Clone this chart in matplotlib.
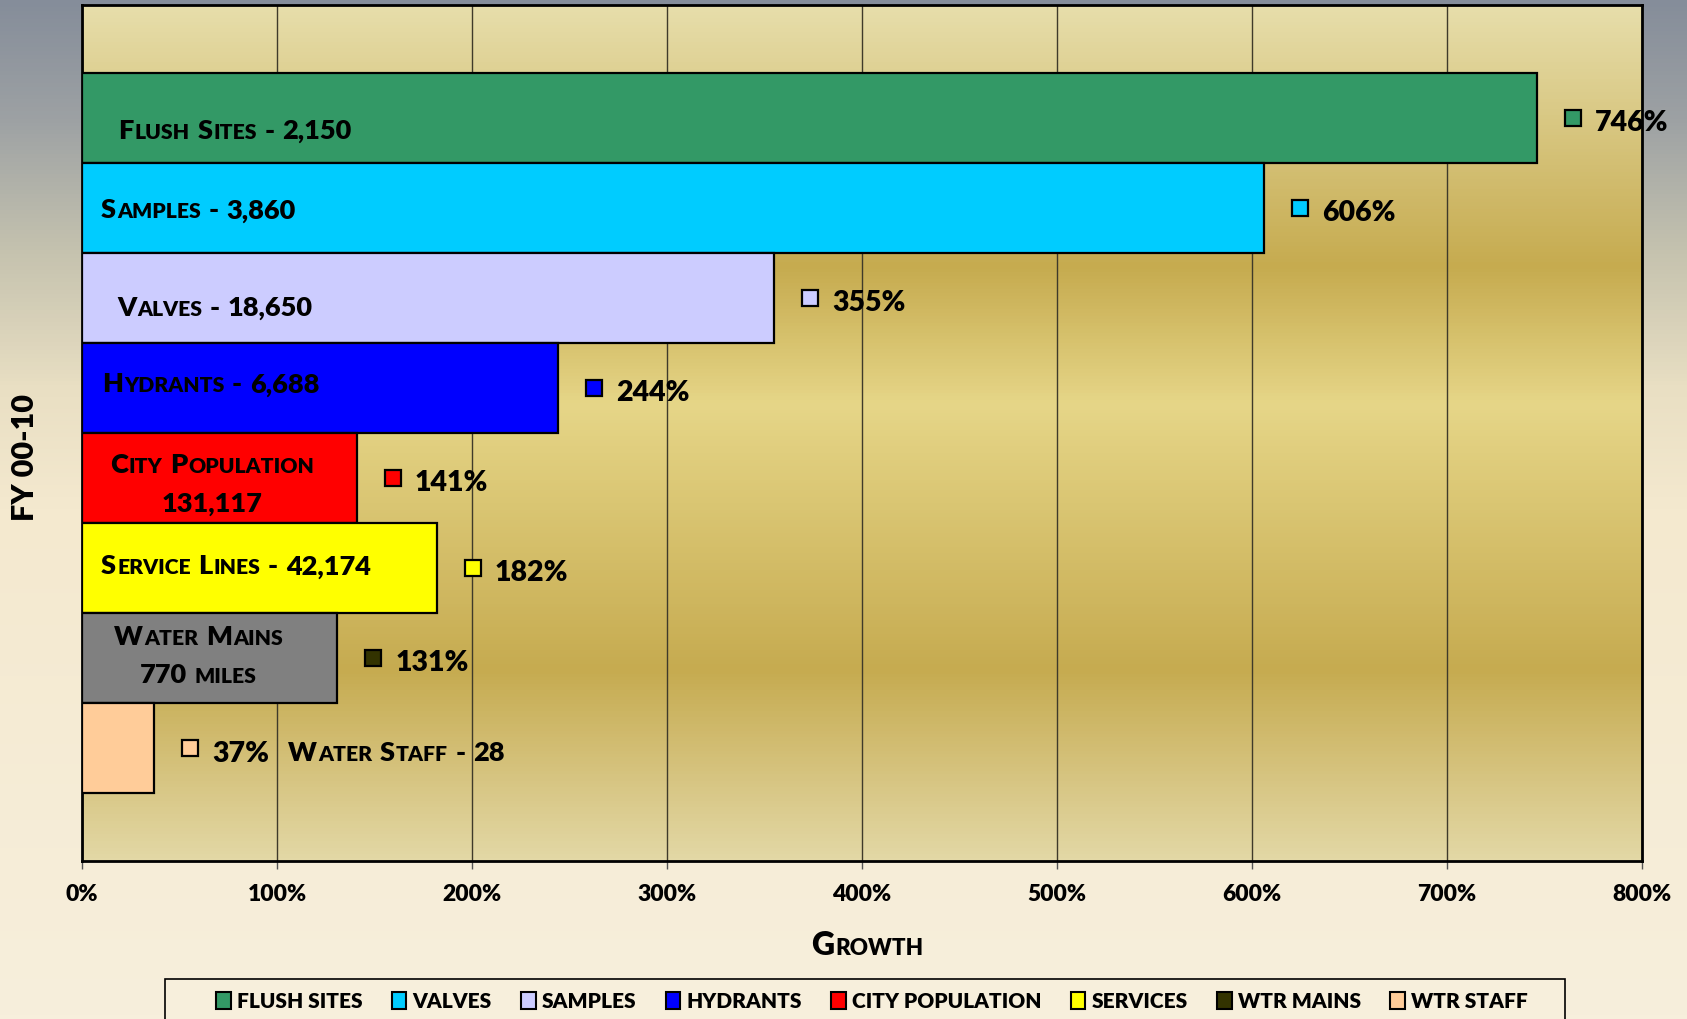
import numpy as np
import matplotlib
matplotlib.use('Agg')
import matplotlib.pyplot as plt
from matplotlib.colors import LinearSegmentedColormap
from matplotlib.patches import Patch, Rectangle
from matplotlib.transforms import offset_copy

WEIGHT = 'heavy'
plt.rcParams['font.family'] = ['Lato', 'DejaVu Sans']
plt.rcParams['font.weight'] = WEIGHT

# data
bar_names = ['Flush Sites - 2,150', 'Samples - 3,860', 'Valves - 18,650', 'Hydrants - 6,688',
             'City Population\n131,117', 'Service Lines - 42,174', 'Water Mains\n770 miles',
             'Water Staff - 28']
growth = [746, 606, 355, 244, 141, 182, 131, 37]
legend_labels = ['FLUSH SITES', 'VALVES', 'SAMPLES', 'HYDRANTS', 'CITY POPULATION',
                 'SERVICES', 'WTR MAINS', 'WTR STAFF']
key_colors = ['#339966', '#00CCFF', '#CCCCFF', '#0000FF', '#FF0000', '#FFFF00', '#333300', '#FFCC99']
bar_colors = ['#339966', '#00CCFF', '#CCCCFF', '#0000FF', '#FF0000', '#FFFF00', '#808080', '#FFCC99']
x_ticks = list(range(0, 801, 100))

# where the bar names sit: (x in %, vertical shift in bar units, alignment)
name_layout = [(18.5, 0.12, 'left'), (9.7, 0.0, 'left'), (18.0, 0.08, 'left'), (10.3, -0.07, 'left'),
               (67.0, -0.18, 'center'), (9.7, -0.05, 'left'), (60.0, -0.27, 'center'),
               (105.6, 0.02, 'left')]

W, H = 1687, 1020
fig = plt.figure(figsize=(W / 100, H / 100), dpi=100)
renderer = fig.canvas.get_renderer()
PX = fig.dpi / 72.0
CAP = 0.7165


def smallcaps(parent, x, y, s, size, transform, ratio=0.78, ha='left', zorder=6):
    tokens = []
    for ch in s:
        if ch == ' ':
            tokens.append((' ', None))
            continue
        small = ch.islower()
        if tokens and tokens[-1][1] == small:
            tokens[-1] = (tokens[-1][0] + ch.upper(), small)
        else:
            tokens.append((ch.upper(), small))
    arts, offs = [], []
    cursor = 0.0
    for t, small in tokens:
        if small is None:
            cursor += 0.23 * size * PX
            continue
        fs = size * ratio if small else size
        a = parent.text(x, y, t, fontsize=fs, fontweight=WEIGHT, ha='left', va='baseline',
                        transform=transform, zorder=zorder)
        w = a.get_window_extent(renderer).width
        arts.append(a)
        offs.append(cursor)
        cursor += w + 0.05 * fs * PX
    shift = -cursor / 2 if ha == 'center' else 0.0
    dy = -CAP * size * PX / 2
    for a, o in zip(arts, offs):
        a.set_transform(offset_copy(transform, fig=fig, x=o + shift, y=dy, units='dots'))
    return arts


# figure background gradient
bg = fig.add_axes([0, 0, 1, 1], zorder=-10)
bg_cmap = LinearSegmentedColormap.from_list('bg', [(0.0, '#858D9A'), (0.12, '#9EA2A4'), (0.25, '#C6C3AF'),
                                                   (0.38, '#E9DFC3'), (0.5, '#F4E9CF'), (1.0, '#F7EFDC')])
bg.imshow(np.linspace(0, 1, 256).reshape(-1, 1), cmap=bg_cmap, aspect='auto', extent=(0, 1, 0, 1))
bg.set_axis_off()

ax = fig.add_axes([82 / W, 1 - 862 / H, (1642 - 82) / W, (862 - 6) / H])
ax.patch.set_alpha(0)
plot_cmap = LinearSegmentedColormap.from_list('plot', [(0.0, '#E7DEAB'), (0.305, '#C6AB4F'), (0.466, '#E6D688'),
                                                       (0.778, '#C6AB50'), (1.0, '#E3D8A6')])
n = len(growth)
ylo, yhi = n - 0.5 + 0.75, -0.5 - 0.75
ax.imshow(np.linspace(0, 1, 256).reshape(-1, 1), cmap=plot_cmap, aspect='auto',
          extent=(0, 800, ylo, yhi), zorder=0)

pos = np.arange(n)
ax.barh(pos, growth, height=1.0, color=bar_colors, edgecolor='black', linewidth=1.6, zorder=3)
ax.set_xlim(0, 800)
ax.set_ylim(ylo, yhi)

ax.set_xticks(x_ticks)
ax.set_xticklabels([f'{t}%' for t in x_ticks], fontsize=16.5, fontweight=WEIGHT)
ax.set_yticks([])
ax.tick_params(axis='x', length=6, width=1, color='#555555', pad=10)
ax.grid(axis='x', color='#3f3a2a', linewidth=1.0)
ax.set_axisbelow(True)
for sp in ax.spines.values():
    sp.set_linewidth(2)
    sp.set_color('black')

# data labels: key square + percentage
for i, v in enumerate(growth):
    ax.plot([v], [i], marker='s', ms=11.5, mfc=key_colors[i], mec='black', mew=1.6,
            transform=offset_copy(ax.transData, fig=fig, x=36, units='dots'), zorder=5, clip_on=False)
    ax.text(v, i, f'{v}%', fontsize=20.5, fontweight=WEIGHT, ha='left', va='baseline',
            transform=offset_copy(ax.transData, fig=fig, x=58, y=-CAP * 20.5 * PX / 2 - 2, units='dots'),
            zorder=5)

# bar names
for i, name in enumerate(bar_names):
    x, dy, ha = name_layout[i]
    for k, line in enumerate(name.split('\n')):
        smallcaps(ax, x, i + dy + k * 0.43, line, 19.5, ax.transData, ha=ha)

# axis titles
smallcaps(fig, 868 / W, 1 - 944 / H, 'Growth', 23, fig.transFigure, ratio=0.7, ha='center')
fig.text(25 / W, 1 - 458 / H, 'FY 00-10', fontsize=22, fontweight=WEIGHT, rotation=90,
         ha='center', va='center')

# legend
fig.patches.append(Rectangle((165 / W, -0.02), 1400 / W, (1020 - 980) / H + 0.02, transform=fig.transFigure,
                             facecolor='#F7EFDC', edgecolor='black', linewidth=1.2, zorder=1))
handles = [Patch(facecolor=c, edgecolor='black', linewidth=1.5) for c in key_colors]
fig.legend(handles, legend_labels, loc='center', bbox_to_anchor=(872 / W, 1 - 1002 / H), ncol=8,
           frameon=False, prop={'size': 15, 'weight': WEIGHT}, handlelength=0.7, handleheight=0.9,
           handletextpad=0.3, columnspacing=1.4)

fig.savefig('out.png', dpi=100)
